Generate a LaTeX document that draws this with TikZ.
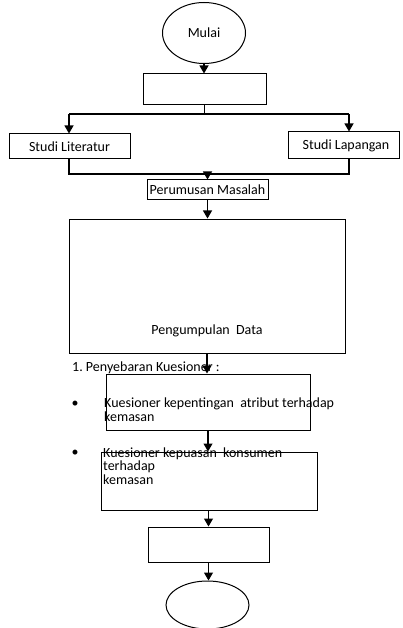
\documentclass[tikz,border=0pt]{standalone}
\usepackage{fontspec}
\setmainfont{Carlito}
\usetikzlibrary{arrows.meta,shapes.geometric}
\tikzset{
  box/.style={draw=black, line width=1pt, rectangle, inner sep=0pt},
  oval/.style={draw=black, line width=1pt, ellipse, inner sep=0pt},
  txt/.style={inner sep=0pt, font=\fontsize{14pt}{14pt}\selectfont},
  ln/.style={draw=black, line width=1.1pt},
  arr/.style={ln, -{Triangle[width=9pt,length=8pt]}}
}
\begin{document}
\begin{tikzpicture}[x=1pt,y=-1pt]
\useasboundingbox (0,0) rectangle (402,628);
% shapes
\node[oval, minimum width=83pt, minimum height=61pt, font=\fontsize{14pt}{14pt}\selectfont] (mulai) at (204,33) {Mulai};
\node[box, minimum width=123pt, minimum height=31pt] (b1) at (204.5,89.5) {};
\node[box, minimum width=121pt, minimum height=25pt, font=\fontsize{14pt}{14pt}\selectfont] (lit) at (69.5,146.5) {Studi Literatur};
\node[box, minimum width=111pt, minimum height=27pt, font=\fontsize{14pt}{14pt}\selectfont] (lap) at (343.5,145.5) {\hspace*{5pt}Studi Lapangan};
\node[box, minimum width=121pt, minimum height=20pt, font=\fontsize{14pt}{14pt}\selectfont] (peru) at (207.5,190) {Perumusan Masalah};
\node[box, minimum width=276pt, minimum height=134pt] (big) at (207,286) {};
\node[box, minimum width=204pt, minimum height=56pt] (b3) at (208,402) {};
\node[box, minimum width=216pt, minimum height=58pt] (b4) at (209,481) {};
\node[box, minimum width=121pt, minimum height=35pt] (b5) at (208.5,544.5) {};
\node[oval, minimum width=83pt, minimum height=48pt] (end) at (207.5,605) {};
% texts
\node[txt] (pd) at (207,331) {Pengumpulan\ \ Data};
\node[txt, anchor=base west] (peny) at (72,371) {1.\ Penyebaran Kuesioner :};
\node[txt] (bul1) at (75,404) {•};
\node[txt, anchor=base west] (k1a) at (104,407) {Kuesioner kepentingan\ \ atribut terhadap};
\node[txt, anchor=base west] (k1b) at (104,421) {kemasan};
\node[txt] (bul2) at (75,453) {•};
\node[txt, anchor=base west] (k2a) at (103,457) {Kuesioner kepuasan\ \ konsumen};
\node[txt, anchor=base west] (k2b) at (103,470) {terhadap};
\node[txt, anchor=base west] (k2c) at (103,484) {kemasan};
% connectors
\coordinate (sl) at (69,114);
\coordinate (sr) at (349,114);
\coordinate (ml) at (69,174);
\coordinate (mr) at (349,174);
\draw[arr] (mulai.south) -- (b1.north -| mulai.south);
\draw[ln] (b1.south) -- (b1.south |- sl);
\draw[ln] (sl) -- (sr);
\draw[arr] (sl) -- (sl |- lit.north);
\draw[arr] (sr) -- (sr |- lap.north);
\draw[ln] (lit.south -| ml) -- (ml) -- (mr) -- (lap.south -| mr);
\draw[arr] (ml -| peru.north) -- (peru.north);
\draw[arr] (peru.south) -- (big.north -| peru.south);
\draw[arr] (big.south) -- (b3.north -| big.south);
\draw[arr] (b3.south) -- (b4.north -| b3.south);
\draw[arr] (b4.south -| b5.north) -- (b5.north);
\draw[arr] (b5.south) -- (end.north -| b5.south);
\end{tikzpicture}
\end{document}
